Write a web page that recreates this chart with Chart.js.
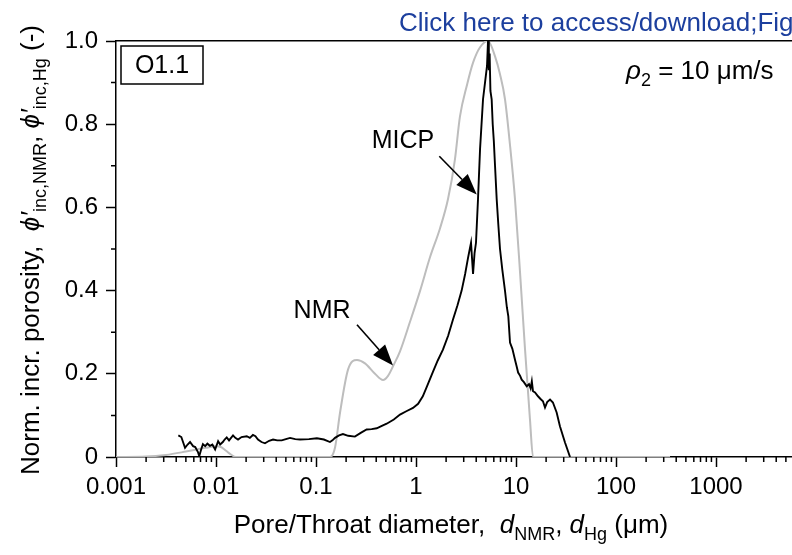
<!DOCTYPE html>
<html>
<head>
<meta charset="utf-8">
<script src="https://cdn.jsdelivr.net/npm/chart.js@4/dist/chart.umd.min.js"></script>
<style>
  html, body { margin: 0; padding: 0; background: #fff; overflow: hidden; width: 792px; height: 555px; }
  #wrap { width: 830px; height: 555px; }
</style>
</head>
<body>
<div id="wrap"><canvas id="chart" width="830" height="555"></canvas></div>
<script>
// NMR pore size distribution (grey)
const diameterNMR = [0.001, 0.002, 0.00316, 0.005, 0.0079, 0.01, 0.0112, 0.0126, 0.0141, 0.0158,
    0.138, 0.155, 0.174, 0.209, 0.257, 0.309, 0.389, 0.468, 0.525, 0.589, 0.692, 0.871,
    1.10, 1.38, 1.74, 2.09, 2.45, 2.75, 3.24, 3.72, 4.37, 5.25, 6.17, 6.92, 7.76, 8.71,
    9.77, 11.0, 12.3, 13.8, 14.8, 347];
const porosityNMR = [0, 0.001, 0.005, 0.013, 0.022, 0.026, 0.024, 0.015, 0.006, 0,
    0, 0.023, 0.107, 0.21, 0.233, 0.225, 0.2, 0.185, 0.195, 0.218, 0.254, 0.325,
    0.40, 0.48, 0.55, 0.62, 0.715, 0.818, 0.895, 0.948, 0.985, 1.0, 0.963, 0.92, 0.86, 0.75,
    0.62, 0.44, 0.26, 0.09, 0, 0];

// MICP pore throat distribution (black)
const diameterMICP = [0.0042, 0.0045, 0.0049, 0.0052, 0.0055, 0.0059, 0.0062, 0.0066, 0.0068, 0.0071,
    0.0074, 0.0078, 0.0082, 0.0087, 0.0092, 0.0098, 0.0105, 0.011, 0.0117, 0.0122,
    0.0128, 0.0135, 0.0148, 0.0156, 0.0166, 0.018, 0.0203, 0.0218, 0.0234, 0.0248,
    0.0263, 0.0285, 0.0309, 0.034, 0.0372, 0.041, 0.0454, 0.05, 0.055, 0.062,
    0.0692, 0.085, 0.102, 0.12, 0.138, 0.146, 0.155, 0.17, 0.186, 0.21,
    0.245, 0.28, 0.321, 0.36, 0.405, 0.45, 0.509, 0.6, 0.692, 0.8,
    0.933, 1.05, 1.17, 1.3, 1.48, 1.65, 1.86, 2.1, 2.34, 2.6,
    2.86, 3.1, 3.31, 3.45, 3.55, 3.65, 3.72, 3.85, 3.98, 4.17,
    4.37, 4.68, 4.9, 5.13, 5.25, 5.35, 5.45, 5.55, 5.71, 5.85,
    6.0, 6.17, 6.41, 6.65, 6.92, 7.3, 7.76, 8.1, 8.38, 8.71,
    9.2, 9.77, 10.1, 10.5, 11.0, 11.4, 12.0, 12.8, 13.5, 14.0,
    14.4, 14.8, 15.5, 16.6, 17.5, 18.6, 19.5, 20.5, 21.9, 23.4,
    25.5, 27.5, 30.9, 34.7];
const porosityMICP = [0.052, 0.048, 0.022, 0.030, 0.036, 0.026, 0.024, 0.012, 0.002, 0.018,
    0.031, 0.026, 0.032, 0.027, 0.030, 0.018, 0.038, 0.030, 0.036, 0.042,
    0.047, 0.040, 0.052, 0.046, 0.042, 0.048, 0.050, 0.046, 0.053, 0.050,
    0.042, 0.036, 0.033, 0.039, 0.042, 0.040, 0.040, 0.043, 0.046, 0.043,
    0.042, 0.043, 0.045, 0.042, 0.036, 0.040, 0.046, 0.052, 0.055, 0.051,
    0.049, 0.058, 0.066, 0.067, 0.069, 0.074, 0.080, 0.090, 0.102, 0.110,
    0.118, 0.128, 0.146, 0.172, 0.205, 0.232, 0.258, 0.292, 0.330, 0.365,
    0.400, 0.440, 0.478, 0.500, 0.515, 0.47, 0.44, 0.49, 0.515, 0.62,
    0.74, 0.86, 0.90, 0.94, 1.0, 0.93, 0.97, 0.88, 0.86, 0.80,
    0.76, 0.70, 0.62, 0.56, 0.50, 0.45, 0.40, 0.36, 0.338, 0.275,
    0.26, 0.234, 0.22, 0.203, 0.195, 0.186, 0.18, 0.17, 0.175, 0.165,
    0.182, 0.158, 0.155, 0.146, 0.14, 0.134, 0.119, 0.132, 0.138, 0.131,
    0.107, 0.074, 0.035, 0.0];

// axis ticks
const xTickValues = [0.001, 0.01, 0.1, 1, 10, 100, 1000, 10000];
const xTickLabels = ['0.001', '0.01', '0.1', '1', '10', '100', '1000', ''];
const yTickLabels = ['0', '0.2', '0.4', '0.6', '0.8', '1.0'];
const yMinorTicks = [0.1, 0.3, 0.5, 0.7, 0.9];

const FONT = '"Liberation Sans", Arial, sans-serif';
Chart.defaults.font.family = FONT;
Chart.defaults.color = '#000';

const toPoints = (xs, ys) => xs.map((x, i) => ({ x: x, y: ys[i] }));

// draws a run of text pieces, some italic and some subscript
function drawRich(ctx, parts, x, y, size, align) {
    const subSize = Math.round(size * 0.7);
    const fontOf = p => (p.it ? 'italic ' : '') + (p.sub ? subSize : size) + 'px ' + FONT;
    let w = 0;
    parts.forEach(p => { ctx.font = fontOf(p); w += ctx.measureText(p.t).width; });
    let cx = align === 'center' ? x - w / 2 : (align === 'right' ? x - w : x);
    ctx.textAlign = 'left';
    ctx.textBaseline = 'alphabetic';
    parts.forEach(p => {
        ctx.font = fontOf(p);
        ctx.fillText(p.t, cx, y + (p.sub ? size * 0.28 : 0));
        cx += ctx.measureText(p.t).width;
    });
}

function drawArrow(ctx, x1, y1, x2, y2) {
    const ang = Math.atan2(y2 - y1, x2 - x1);
    const len = 21, half = 8;
    const bx = x2 - len * Math.cos(ang), by = y2 - len * Math.sin(ang);
    ctx.beginPath();
    ctx.moveTo(x1, y1);
    ctx.lineTo(bx, by);
    ctx.lineWidth = 1.6;
    ctx.stroke();
    ctx.beginPath();
    ctx.moveTo(x2, y2);
    ctx.lineTo(bx + half * Math.sin(ang), by - half * Math.cos(ang));
    ctx.lineTo(bx - half * Math.sin(ang), by + half * Math.cos(ang));
    ctx.closePath();
    ctx.fill();
}

const minorTicks = {
    id: 'minorTicks',
    afterDraw(chart) {
        const { ctx, chartArea } = chart;
        const xs = chart.scales.x, ys = chart.scales.y;
        ctx.save();
        ctx.strokeStyle = '#000';
        ctx.lineWidth = 1.5;
        ctx.beginPath();
        for (let e = -3; e <= 3; e++) {
            for (let m = 2; m <= 9; m++) {
                const px = xs.getPixelForValue(m * Math.pow(10, e));
                ctx.moveTo(px, chartArea.bottom);
                ctx.lineTo(px, chartArea.bottom + 5);
            }
        }
        yMinorTicks.forEach(v => {
            const py = ys.getPixelForValue(v);
            ctx.moveTo(chartArea.left, py);
            ctx.lineTo(chartArea.left - 5, py);
        });
        ctx.stroke();
        ctx.restore();
    }
};

const annotations = {
    id: 'annotations',
    afterDraw(chart) {
        const { ctx, chartArea } = chart;
        const xs = chart.scales.x, ys = chart.scales.y;
        const X = v => xs.getPixelForValue(v), Y = v => ys.getPixelForValue(v);
        ctx.save();
        ctx.fillStyle = '#000';
        ctx.strokeStyle = '#000';

        // sample box
        ctx.lineWidth = 1.5;
        ctx.strokeRect(chartArea.left + 5, chartArea.top + 5, 82, 38);
        ctx.font = '25px ' + FONT;
        ctx.textAlign = 'center';
        ctx.textBaseline = 'middle';
        ctx.fillText('O1.1', chartArea.left + 46, chartArea.top + 25);

        // surface relaxivity
        drawRich(ctx, [{ t: 'ρ', it: true }, { t: '2', sub: true }, { t: ' = 10 μm/s' }],
            chartArea.left + 510, chartArea.top + 38, 26, 'left');

        // curve labels with arrows
        ctx.font = '25px ' + FONT;
        ctx.textAlign = 'center';
        ctx.textBaseline = 'middle';
        ctx.fillText('MICP', X(0.741), Y(0.76));
        ctx.fillText('NMR', X(0.115), Y(0.351));
        drawArrow(ctx, X(1.71), Y(0.723), X(4.05), Y(0.631));
        drawArrow(ctx, X(0.257), Y(0.318), X(0.589), Y(0.22));

        // axis titles
        drawRich(ctx, [{ t: 'Pore/Throat diameter,  ' }, { t: 'd', it: true }, { t: 'NMR', sub: true },
            { t: ', ' }, { t: 'd', it: true }, { t: 'Hg', sub: true }, { t: ' (μm)' }],
            451, 533, 26, 'center');
        ctx.translate(39, (chartArea.top + chartArea.bottom) / 2 + 1);
        ctx.rotate(-Math.PI / 2);
        drawRich(ctx, [{ t: 'Norm. incr. porosity,  ' }, { t: 'ϕ′', it: true }, { t: 'inc,NMR', sub: true },
            { t: ', ' }, { t: 'ϕ′', it: true }, { t: 'inc,Hg', sub: true }, { t: ' (-)' }],
            0, 0, 26, 'center');
        ctx.restore();

        // header line of the source page
        ctx.save();
        ctx.fillStyle = '#1c3f9e';
        ctx.font = '26px ' + FONT;
        ctx.textAlign = 'left';
        ctx.textBaseline = 'alphabetic';
        ctx.fillText('Click here to access/download;Figure', 399, 31);
        ctx.restore();
    }
};

new Chart(document.getElementById('chart'), {
    type: 'line',
    data: {
        datasets: [
            {
                label: 'MICP',
                data: toPoints(diameterMICP, porosityMICP),
                borderColor: '#000',
                borderWidth: 1.9,
                pointRadius: 0,
                tension: 0,
                fill: false
            },
            {
                label: 'NMR',
                data: toPoints(diameterNMR, porosityNMR),
                borderColor: '#bdbdbd',
                borderWidth: 2,
                pointRadius: 0,
                cubicInterpolationMode: 'monotone',
                fill: false
            }
        ]
    },
    options: {
        responsive: false,
        animation: false,
        layout: { padding: { top: 41, right: 14, left: 0, bottom: 0 } },
        plugins: { legend: { display: false }, tooltip: { enabled: false } },
        scales: {
            x: {
                type: 'logarithmic',
                position: 'bottom',
                min: 0.001,
                max: 10000,
                afterBuildTicks: s => { s.ticks = xTickValues.map(v => ({ value: v, major: true })); },
                afterFit: s => { s.height = 98; },
                ticks: {
                    autoSkip: false,
                    maxRotation: 0,
                    padding: 6,
                    font: { size: 24 },
                    callback: (v, i) => xTickLabels[i]
                },
                grid: { drawOnChartArea: false, tickLength: 10, tickWidth: 1.5, tickColor: '#000' },
                border: { display: true, color: '#000', width: 1.5 }
            },
            xTop: {
                type: 'logarithmic',
                position: 'top',
                min: 0.001,
                max: 10000,
                afterFit: s => { s.height = 0; },
                ticks: { display: false },
                grid: { display: false },
                border: { display: true, color: '#000', width: 1.5 }
            },
            y: {
                min: 0,
                max: 1,
                afterFit: s => { s.width = 116; },
                ticks: {
                    stepSize: 0.2,
                    padding: 8,
                    font: { size: 24 },
                    callback: (v, i) => yTickLabels[i]
                },
                grid: { drawOnChartArea: false, tickLength: 10, tickWidth: 1.5, tickColor: '#000' },
                border: { display: true, color: '#000', width: 1.5 }
            }
        }
    },
    plugins: [minorTicks, annotations]
});
</script>
</body>
</html>
